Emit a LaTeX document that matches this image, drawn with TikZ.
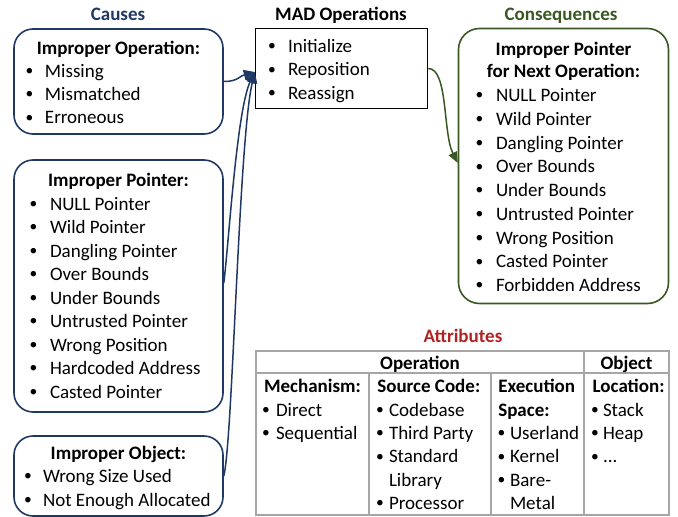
\documentclass[tikz,border=0pt]{standalone}
\usepackage{fontspec}
\setmainfont{Carlito}
\usetikzlibrary{arrows.meta}
\definecolor{cblue}{RGB}{31,56,100}
\definecolor{cgreen}{RGB}{56,87,35}
\definecolor{cred}{RGB}{178,34,34}
\definecolor{cgray}{RGB}{166,166,166}
\begin{document}
\begin{tikzpicture}[x=1pt,y=-1pt,
  txt/.style={inner sep=0pt, outer sep=0pt, font=\fontsize{19}{23.5}\selectfont, anchor=base west},
  ctxt/.style={txt, anchor=base},
  btxt/.style={ctxt, font=\fontsize{19}{23.5}\selectfont\bfseries},
  bltxt/.style={txt, font=\fontsize{19}{23.5}\selectfont\bfseries},
  bul/.style={ctxt, font=\fontsize{15.5}{23.5}\selectfont, yshift=1.8pt},
  causebox/.style={draw=cblue, line width=1.6pt, rounded corners=19pt, inner sep=0pt},
  consbox/.style={draw=cgreen, line width=1.6pt, rounded corners=21pt, inner sep=0pt},
  madbox/.style={draw=black, line width=1.5pt, inner sep=0pt},
  tabbox/.style={draw=cgray, line width=1.3pt, inner sep=0pt},
  bluearrow/.style={draw=cblue, line width=1.5pt, -{Triangle[length=11pt,width=10pt]}},
  greenarrow/.style={draw=cgreen, line width=1.5pt, -{Triangle[length=11pt,width=9pt]}},
]
\useasboundingbox (0,0) rectangle (678,517);

% column titles
\node[btxt, text=cblue] (tcauses) at (118,20.7) {Causes};
\node[btxt] (tmad) at (341,20.7) {MAD Operations};
\node[btxt, text=cgreen] (tcons) at (561,20.7) {Consequences};
\node[btxt, text=cred] (tattr) at (463,342.7) {Attributes};

% boxes
\node[causebox, minimum width=209pt, minimum height=105pt] (b1) at (118.5,81.5) {};
\node[causebox, minimum width=209pt, minimum height=252pt] (b2) at (118.5,286) {};
\node[causebox, minimum width=209pt, minimum height=80pt] (b3) at (118.5,476) {};
\node[madbox, minimum width=172pt, minimum height=80pt] (mad) at (341.5,68.5) {};
\node[consbox, minimum width=210pt, minimum height=275pt] (cons) at (563.5,166) {};

% box 1
\node[btxt] (b1h) at (118.5,54) {Improper Operation:};
\foreach \t [count=\i from 0] in {Missing,Mismatched,Erroneous}{
  \node[bul] (b1d\i) at (29.5,{77+23.4*\i}) {•};
  \node[txt] (b1t\i) at (45,{77+23.4*\i}) {\t};
}
% box 2
\node[btxt] (b2h) at (118.5,186) {Improper Pointer:};
\foreach \t [count=\i from 0] in {NULL Pointer,Wild Pointer,Dangling Pointer,Over Bounds,Under Bounds,Untrusted Pointer,Wrong Position,Hardcoded Address,Casted Pointer}{
  \node[bul] (b2d\i) at (33.5,{210+23.5*\i}) {•};
  \node[txt] (b2t\i) at (50,{210+23.5*\i}) {\t};
}
% box 3
\node[btxt] (b3h) at (118.5,459) {Improper Object:};
\foreach \t [count=\i from 0] in {Wrong Size Used,Not Enough Allocated}{
  \node[bul] (b3d\i) at (28,{482.7+23.4*\i}) {•};
  \node[txt] (b3t\i) at (43,{482.7+23.4*\i}) {\t};
}
% MAD box
\foreach \t [count=\i from 0] in {Initialize,Reposition,Reassign}{
  \node[bul] (madd\i) at (272,{52.7+23.2*\i}) {•};
  \node[txt] (madt\i) at (288,{52.7+23.2*\i}) {\t};
}
% consequences box
\node[btxt] (ch1) at (563.5,55) {Improper Pointer};
\node[btxt] (ch2) at (563.5,77.3) {for Next Operation:};
\foreach \t [count=\i from 0] in {NULL Pointer,Wild Pointer,Dangling Pointer,Over Bounds,Under Bounds,Untrusted Pointer,Wrong Position,Casted Pointer,Forbidden Address}{
  \node[bul] (cd\i) at (479.5,{101.7+23.75*\i}) {•};
  \node[txt] (ct\i) at (496,{101.7+23.75*\i}) {\t};
}

% connectors
\coordinate (tip) at ([yshift=-3.5pt]mad.west);
\draw[bluearrow] (b1.east) .. controls +(14,0) and +(-15,4) .. (tip);
\draw[bluearrow] ([yshift=3pt]b2.east) .. controls +(5,-40) and +(-18,38) .. (tip);
\draw[bluearrow] (b3.east) .. controls +(9,-36) and +(-16,68) .. (tip);
\draw[greenarrow] (mad.east) .. controls +(20,0) and +(-15,-30) .. ([yshift=3pt]cons.west);

% attributes table
\node[tabbox, minimum width=413pt, minimum height=164pt] (tab) at (462.5,433) {};
\draw[cgray, line width=1.3pt] (256,373) -- (669,373);
\draw[cgray, line width=1.3pt] (584,351) -- (584,515);
\draw[cgray, line width=1.3pt] (369,373) -- (369,515);
\draw[cgray, line width=1.3pt] (491,373) -- (491,515);
\node[btxt] (hop) at (420,369.3) {Operation};
\node[btxt] (hob) at (626.5,369.3) {Object};

\node[bltxt] (m0) at (264,392.7) {Mechanism:};
\node[bul] (md0) at (266,416) {•};
\node[txt] (mt0) at (276,416) {Direct};
\node[bul] (md1) at (266,439.4) {•};
\node[txt] (mt1) at (276,439.4) {Sequential};

\node[bltxt] (s0) at (377.3,392.7) {Source Code:};
\node[bul] (sd0) at (380,416) {•};
\node[txt] (st0) at (389,416) {Codebase};
\node[bul] (sd1) at (380,439.4) {•};
\node[txt] (st1) at (389,439.4) {Third Party};
\node[bul] (sd2) at (380,462.8) {•};
\node[txt] (st2) at (389,462.8) {Standard};
\node[txt] (st3) at (389,486.2) {Library};
\node[bul] (sd4) at (380,509.6) {•};
\node[txt] (st4) at (389,509.6) {Processor};

\node[bltxt] (e0) at (498.3,392.7) {Execution};
\node[bltxt] (e1) at (498.3,416) {Space:};
\node[bul] (ed0) at (501.5,439.4) {•};
\node[txt] (et0) at (510,439.4) {Userland};
\node[bul] (ed1) at (501.5,462.8) {•};
\node[txt] (et1) at (510,462.8) {Kernel};
\node[bul] (ed2) at (501.5,486.2) {•};
\node[txt] (et2) at (510,486.2) {Bare-};
\node[txt] (et3) at (510,509.6) {Metal};

\node[bltxt] (l0) at (592.7,392.7) {Location:};
\node[bul] (ld0) at (595,416) {•};
\node[txt] (lt0) at (603,416) {Stack};
\node[bul] (ld1) at (595,439.4) {•};
\node[txt] (lt1) at (603,439.4) {Heap};
\node[bul] (ld2) at (595,462.8) {•};
\node[txt] (lt2) at (603,462.8) {...};
\end{tikzpicture}
\end{document}
